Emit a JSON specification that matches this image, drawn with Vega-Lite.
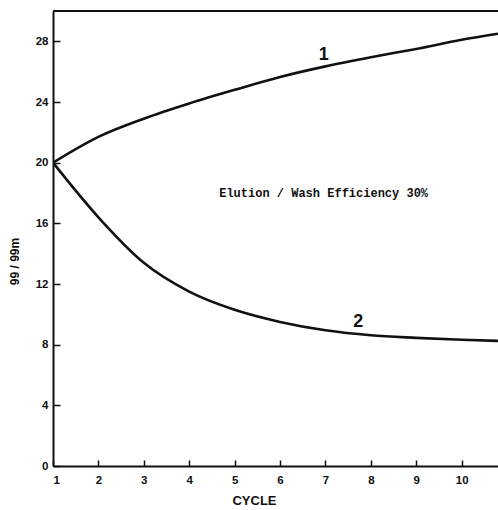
{
  "$schema": "https://vega.github.io/schema/vega-lite/v6.json",
  "autosize": "none",
  "width": 445,
  "height": 455,
  "padding": {"left": 53, "top": 11, "right": 0, "bottom": 44},
  "background": "white",
  "config": {
    "view": {"stroke": null},
    "axis": {
      "domainColor": "#111",
      "domainWidth": 2,
      "tickColor": "#111",
      "tickWidth": 1.5,
      "labelColor": "#111",
      "labelFont": "Liberation Sans",
      "labelFontWeight": "bold",
      "labelFontSize": 11.5,
      "titleColor": "#111",
      "titleFont": "Liberation Sans",
      "titleFontWeight": "bold",
      "grid": false
    }
  },
  "datasets": {
    "curves": [
      {"cycle": 1, "value": 20, "series": "1"},
      {"cycle": 2, "value": 21.7, "series": "1"},
      {"cycle": 3, "value": 22.9, "series": "1"},
      {"cycle": 4, "value": 23.9, "series": "1"},
      {"cycle": 5, "value": 24.8, "series": "1"},
      {"cycle": 6, "value": 25.65, "series": "1"},
      {"cycle": 7, "value": 26.35, "series": "1"},
      {"cycle": 8, "value": 26.95, "series": "1"},
      {"cycle": 9, "value": 27.5, "series": "1"},
      {"cycle": 10, "value": 28.1, "series": "1"},
      {"cycle": 10.8, "value": 28.5, "series": "1"},
      {"cycle": 1, "value": 20, "series": "2"},
      {"cycle": 2, "value": 16.4, "series": "2"},
      {"cycle": 3, "value": 13.4, "series": "2"},
      {"cycle": 4, "value": 11.5, "series": "2"},
      {"cycle": 5, "value": 10.3, "series": "2"},
      {"cycle": 6, "value": 9.5, "series": "2"},
      {"cycle": 7, "value": 8.95, "series": "2"},
      {"cycle": 8, "value": 8.62, "series": "2"},
      {"cycle": 9, "value": 8.45, "series": "2"},
      {"cycle": 10, "value": 8.32, "series": "2"},
      {"cycle": 10.8, "value": 8.25, "series": "2"}
    ],
    "labels": [
      {"cycle": 6.96, "value": 27.1, "label": "1"},
      {"cycle": 7.72, "value": 9.5, "label": "2"}
    ],
    "note": [
      {"cycle": 6.96, "value": 18.0, "label": "Elution / Wash  Efficiency  30%"}
    ]
  },
  "layer": [
    {
      "data": {"name": "curves"},
      "mark": {"type": "line", "color": "#111", "strokeWidth": 2.6, "interpolate": "monotone", "clip": true},
      "encoding": {
        "x": {
          "field": "cycle", "type": "quantitative",
          "scale": {"domain": [1, 10.8], "nice": false, "zero": false},
          "axis": {
            "values": [1, 2, 3, 4, 5, 6, 7, 8, 9, 10],
            "tickSize": -6,
            "labelPadding": 14,
            "title": "CYCLE",
            "titleFontSize": 13,
            "titleX": 201,
            "titleY": 34,
            "titleAlign": "center",
            "titleBaseline": "middle"
          }
        },
        "y": {
          "field": "value", "type": "quantitative",
          "scale": {"domain": [0, 30], "nice": false},
          "axis": {
            "values": [0, 2, 4, 6, 8, 10, 12, 14, 16, 18, 20, 22, 24, 26, 28],
            "labelExpr": "datum.value % 4 === 0 ? datum.label : ''",
            "tickSize": -7,
            "labelPadding": 12,
            "title": "99 / 99m",
            "titleFontSize": 12,
            "titleX": -39,
            "titleY": 250,
            "titleAlign": "center",
            "titleBaseline": "middle"
          }
        },
        "detail": {"field": "series"}
      }
    },
    {
      "data": {"name": "labels"},
      "mark": {"type": "text", "font": "Liberation Sans", "fontWeight": "bold", "fontSize": 18, "color": "#111"},
      "encoding": {
        "x": {"field": "cycle", "type": "quantitative"},
        "y": {"field": "value", "type": "quantitative"},
        "text": {"field": "label"}
      }
    },
    {
      "data": {"name": "note"},
      "mark": {"type": "text", "font": "Liberation Mono", "fontWeight": "bold", "fontSize": 12, "color": "#111"},
      "encoding": {
        "x": {"field": "cycle", "type": "quantitative"},
        "y": {"field": "value", "type": "quantitative"},
        "text": {"field": "label"}
      }
    },
    {
      "data": {"values": [{}]},
      "mark": {"type": "rule", "color": "#111", "strokeWidth": 2},
      "encoding": {
        "y": {"datum": 30, "type": "quantitative"},
        "x": {"datum": 1, "type": "quantitative"},
        "x2": {"datum": 10.8}
      }
    }
  ]
}
